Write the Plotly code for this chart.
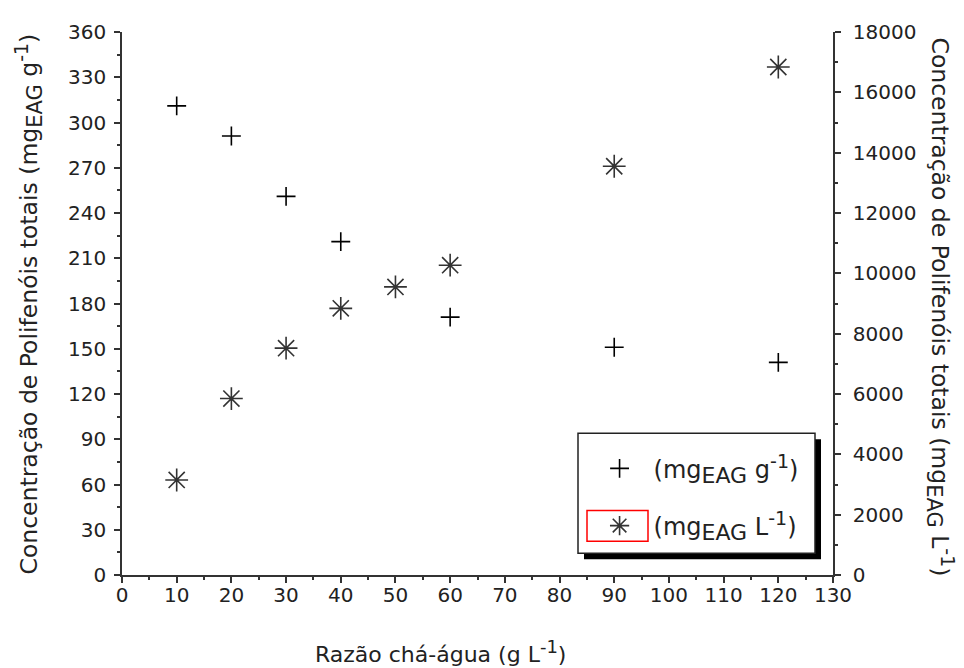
import plotly.graph_objects as go

# data
ratio_g = [10, 20, 30, 40, 60, 90, 120]
conc_g = [311, 291, 251, 221, 171, 151, 141]
ratio_L = [10, 20, 30, 40, 50, 60, 90, 120]
conc_L = [3150, 5850, 7520, 8840, 9550, 10270, 13550, 16840]

x_ticks = list(range(0, 131, 10))
yl_ticks = list(range(0, 361, 30))
yr_ticks = list(range(0, 18001, 2000))

FONT = "DejaVu Sans"
TXT = "#222222"


def sub(t, s):
    return f"<sub><span style='font-size:{s}px'>{t}</span></sub>"


def sup(t, s):
    return f"<sup><span style='font-size:{s}px'>{t}</span></sup>"


fig = go.Figure()
fig.add_trace(go.Scatter(
    x=ratio_g, y=conc_g, mode="markers", yaxis="y",
    name="(mg" + sub("EAG", 22) + " g" + sup("-1", 19) + ")", legendgroup="a",
    marker=dict(symbol="cross-thin", size=13.5, color="black",
                line=dict(color="black", width=1.6)),
))
fig.add_trace(go.Scatter(
    x=ratio_L, y=conc_L, mode="markers", yaxis="y2",
    name="(mg" + sub("EAG", 22) + " L" + sup("-1", 19) + ")", legendgroup="b",
    marker=dict(symbol="asterisk-open", size=19, color="#333333",
                line=dict(color="#333333", width=1.6)),
))

axis_common = dict(
    showgrid=False, zeroline=False, showline=True, linecolor="#333333",
    linewidth=1.5, ticks="outside", ticklen=6, tickwidth=1.5,
    tickcolor="#333333", tickfont=dict(family=FONT, size=20, color=TXT),
)

fig.update_layout(
    width=956, height=660,
    margin=dict(l=114, r=131, t=19, b=93),
    plot_bgcolor="white", paper_bgcolor="white",
    font=dict(family=FONT, color=TXT),
    xaxis=dict(range=[0, 130], tickvals=x_ticks, ticktext=[str(v) for v in x_ticks],
               ticklabelstandoff=-5,
               minor=dict(dtick=5, ticks="outside", ticklen=3, tickwidth=1.5,
                          tickcolor="#333333"),
               **axis_common),
    xaxis2=dict(range=[0, 130], overlaying="x", side="top", anchor="y",
                showline=True, linecolor="#333333", linewidth=1.5,
                ticks="inside", ticklen=6, tickwidth=1.5, tickcolor="#333333",
                tickvals=x_ticks, showticklabels=False, showgrid=False, zeroline=False,
                minor=dict(dtick=5, ticks="inside", ticklen=3, tickwidth=1.5,
                           tickcolor="#333333")),
    yaxis=dict(range=[0, 360], tickvals=yl_ticks, ticktext=[str(v) for v in yl_ticks],
               ticklabelstandoff=4,
               minor=dict(dtick=15, ticks="outside", ticklen=3, tickwidth=1.5,
                          tickcolor="#333333"),
               **axis_common),
    yaxis2=dict(range=[0, 18000], overlaying="y", side="right", anchor="x",
                tickvals=yr_ticks, ticktext=[str(v) for v in yr_ticks],
                ticklabelstandoff=8,
                minor=dict(dtick=1000, ticks="outside", ticklen=3, tickwidth=1.5,
                           tickcolor="#333333"),
                **axis_common),
    showlegend=True,
    legend=dict(x=0.652, y=0.237, xanchor="left", yanchor="top",
                bgcolor="rgba(0,0,0,0)", borderwidth=0,
                font=dict(family=FONT, size=24, color=TXT),
                tracegroupgap=23, itemwidth=58),
)

# legend box with shadow and red highlight
fig.add_shape(type="rect", xref="paper", yref="paper",
              x0=(584 - 122) / 711, x1=(821 - 122) / 711,
              y0=(575 - 559) / 548, y1=(575 - 438) / 548,
              fillcolor="black", line=dict(width=0), layer="above")
fig.add_shape(type="rect", xref="paper", yref="paper",
              x0=(578 - 122) / 711, x1=(815 - 122) / 711,
              y0=(575 - 553) / 548, y1=(575 - 432) / 548,
              fillcolor="white", line=dict(color="#222222", width=1.5), layer="above")
fig.add_shape(type="rect", xref="paper", yref="paper",
              x0=(587 - 122) / 711, x1=(648 - 122) / 711,
              y0=(575 - 541) / 548, y1=(575 - 510) / 548,
              fillcolor="rgba(0,0,0,0)", line=dict(color="red", width=1.5), layer="above")

fig.add_annotation(text="Razão chá-água (g L" + sup("-1", 18) + ")", xref="paper", yref="paper",
                   x=(440 - 122) / 711, y=(575 - 652) / 548, showarrow=False,
                   xanchor="center", yanchor="middle",
                   font=dict(family=FONT, size=22, color=TXT))
fig.add_annotation(text="Concentração de Polifenóis totais (mg" + sub("EAG", 21) + " g" + sup("-1", 19) + ")",
                   xref="paper", yref="paper", x=(29 - 122) / 711, y=(575 - 302) / 548,
                   showarrow=False, textangle=-90, xanchor="center", yanchor="middle",
                   font=dict(family=FONT, size=23.5, color=TXT))
fig.add_annotation(text="Concentração de Polifenóis totais (mg" + sub("EAG", 21) + " L" + sup("-1", 19) + ")",
                   xref="paper", yref="paper", x=(940 - 122) / 711, y=(575 - 304) / 548,
                   showarrow=False, textangle=90, xanchor="center", yanchor="middle",
                   font=dict(family=FONT, size=23.5, color=TXT))

fig.write_html("out.html")
